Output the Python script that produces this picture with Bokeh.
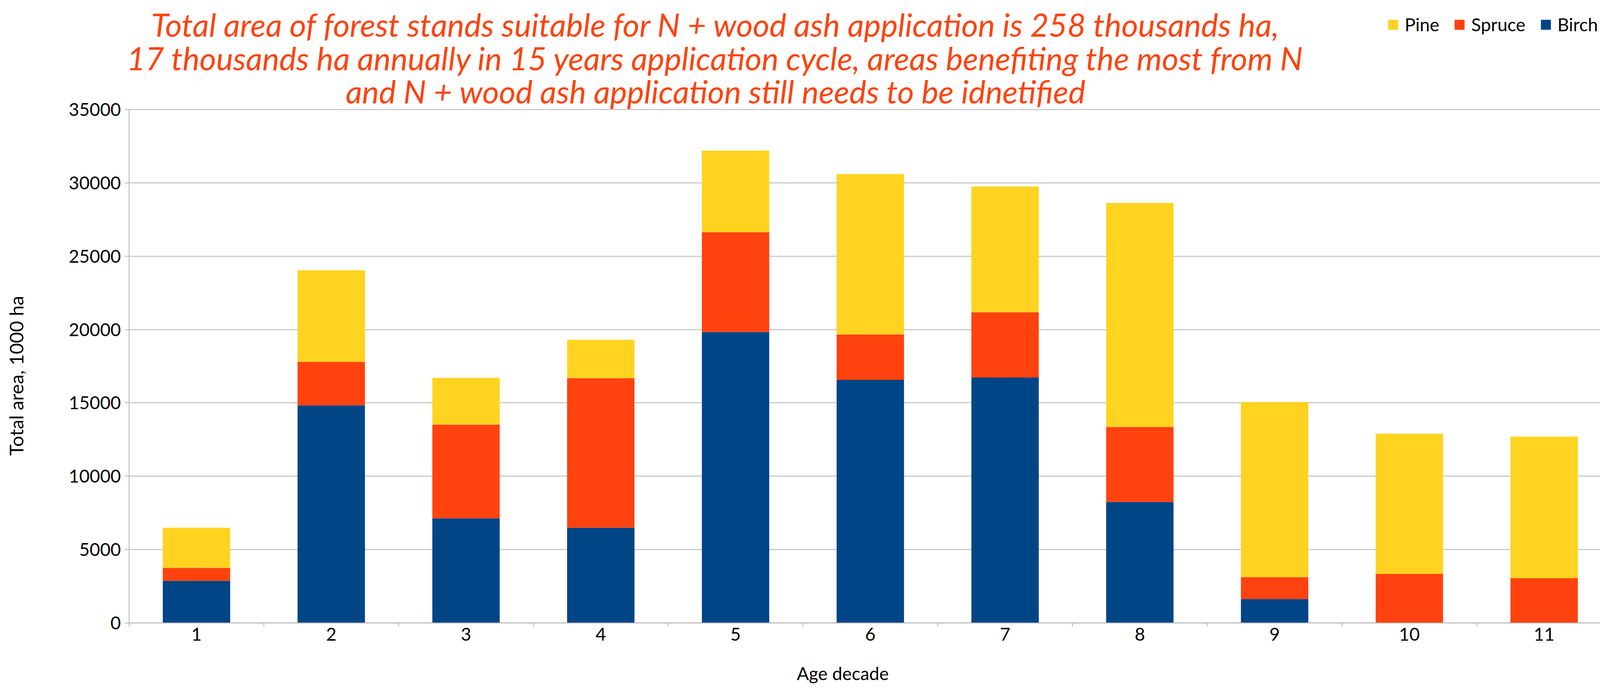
import math
from bokeh.plotting import figure
from bokeh.models import ColumnDataSource, Range1d, FixedTicker, Label, Legend, LegendItem
from bokeh.embed import file_html
from bokeh.resources import INLINE

# ---- data ----
decades = [1, 2, 3, 4, 5, 6, 7, 8, 9, 10, 11]
decade_labels = ["1", "2", "3", "4", "5", "6", "7", "8", "9", "10", "11"]
birch = [2865, 14830, 7130, 6490, 19830, 16570, 16730, 8250, 1630, 0, 0]
spruce = [890, 2960, 6390, 10200, 6800, 3100, 4450, 5110, 1490, 3350, 3050]
pine = [2730, 6250, 3190, 2610, 5570, 10930, 8570, 15270, 11940, 9550, 9650]
series_names = ["Birch", "Spruce", "Pine"]
series_colors = ["#004586", "#FF420E", "#FFD320"]
legend_order = ["Pine", "Spruce", "Birch"]
y_ticks = [0, 5000, 10000, 15000, 20000, 25000, 30000, 35000]
title_lines = [
    "Total area of forest stands suitable for N + wood ash application is 258 thousands ha,",
    "17 thousands ha annually in 15 years application cycle, areas benefiting the most from N",
    "and N + wood ash application still needs to be idnetified",
]
x_title = "Age decade"
y_title = "Total area, 1000 ha"

FONT = "Lato"
W, H = 4125, 1759
# layout of the plotting area inside the canvas (pixels from top-left)
AX_LEFT, AX_RIGHT = 330, 4125
AX_TOP, AX_BOTTOM = 280, 1595

x_lo, x_hi = decades[0] - 0.5, decades[-1] + 0.5
y_lo, y_hi = y_ticks[0], y_ticks[-1]
ppx = (AX_RIGHT - AX_LEFT) / (x_hi - x_lo)
ppy = (AX_BOTTOM - AX_TOP) / (y_hi - y_lo)
x_start, x_end = x_lo - AX_LEFT / ppx, x_lo + (W - AX_LEFT) / ppx
y_start, y_end = y_lo - (H - AX_BOTTOM) / ppy, y_hi + AX_TOP / ppy

def dx(px):
    return x_start + px / ppx

def dy(py):
    return y_end - py / ppy

source = ColumnDataSource(dict(decade=decades, Birch=birch, Spruce=spruce, Pine=pine))

p = figure(width=W, height=H, output_backend="svg", toolbar_location=None,
           x_range=Range1d(x_start, x_end), y_range=Range1d(y_start, y_end),
           min_border=0, min_border_left=0, min_border_right=0,
           min_border_top=0, min_border_bottom=0)
p.title.visible = False
p.outline_line_color = None

renderers = p.vbar_stack(series_names, x="decade", width=0.5, color=series_colors,
                         source=source, line_width=0)

# horizontal grid only over the data span
p.xgrid.grid_line_color = None
yg = p.ygrid[0]
if "cross_bounds" in yg.properties():
    yg.cross_bounds = (x_lo, x_hi)
    yg.grid_line_color = "#b3b3b3"
    yg.grid_line_width = 2
else:
    yg.grid_line_color = None
    p.segment(x0=[x_lo] * len(y_ticks), x1=[x_hi] * len(y_ticks), y0=y_ticks, y1=y_ticks,
              line_color="#b3b3b3", line_width=2, level="underlay")

# y axis drawn at the left edge of the categories
yax = p.yaxis[0]
yax.fixed_location = x_lo
yax.bounds = (y_lo, y_hi)
yax.ticker = FixedTicker(ticks=y_ticks)
yax.axis_line_color = "#b3b3b3"
yax.axis_line_width = 2
yax.major_tick_line_color = "#b3b3b3"
yax.major_tick_line_width = 2
yax.major_tick_out = 11
yax.major_tick_in = 0
yax.minor_tick_line_color = None
yax.major_label_standoff = 10
yax.major_label_text_font = FONT
yax.major_label_text_font_size = "46px"
yax.major_label_text_color = "black"

# x axis at zero: labels at bar centres, ticks at category boundaries
xax = p.xaxis[0]
xax.fixed_location = y_lo
xax.bounds = (x_lo, x_hi)
boundaries = [d - 0.5 for d in decades] + [decades[-1] + 0.5]
xax.ticker = FixedTicker(ticks=decades, minor_ticks=boundaries)
xax.major_label_overrides = {d: lab for d, lab in zip(decades, decade_labels)}
xax.axis_line_color = "#b3b3b3"
xax.axis_line_width = 2
xax.major_tick_line_color = None
xax.major_tick_out = 0
xax.major_tick_in = 0
xax.minor_tick_line_color = "#b3b3b3"
xax.minor_tick_line_width = 2
xax.minor_tick_out = 10
xax.minor_tick_in = 0
xax.major_label_standoff = 2
xax.major_label_text_font = FONT
xax.major_label_text_font_size = "46px"
xax.major_label_text_color = "black"

# axis titles
p.add_layout(Label(x=dx(40), y=dy(962), text=y_title, angle=math.pi / 2,
                   text_align="center", text_baseline="middle",
                   text_font=FONT, text_font_size="49px", text_color="black"))
p.add_layout(Label(x=dx(2157), y=dy(1724), text=x_title,
                   text_align="center", text_baseline="alphabetic",
                   text_font=FONT, text_font_size="46px", text_color="black"))

# chart title: three centred italic lines
title_baselines = [61, 147, 232]
for txt, ty in zip(title_lines, title_baselines):
    p.add_layout(Label(x=dx(1832), y=dy(ty), text=txt,
                       text_align="center", text_baseline="alphabetic",
                       text_font=FONT, text_font_style="italic",
                       text_font_size="82px", text_color="#FF420E"))

# legend (Pine, Spruce, Birch) at top right
by_name = dict(zip(series_names, renderers))
legend = Legend(items=[LegendItem(label=n, renderers=[by_name[n]]) for n in legend_order],
                orientation="horizontal", location=(3550, H - 90),
                glyph_width=32, glyph_height=32, label_height=32, label_standoff=14,
                spacing=36, padding=0, margin=0,
                border_line_color=None, background_fill_alpha=0,
                label_text_font=FONT, label_text_font_size="46px", label_text_color="black")
p.add_layout(legend, "center")

open("out.html", "w").write(file_html(p, INLINE))
